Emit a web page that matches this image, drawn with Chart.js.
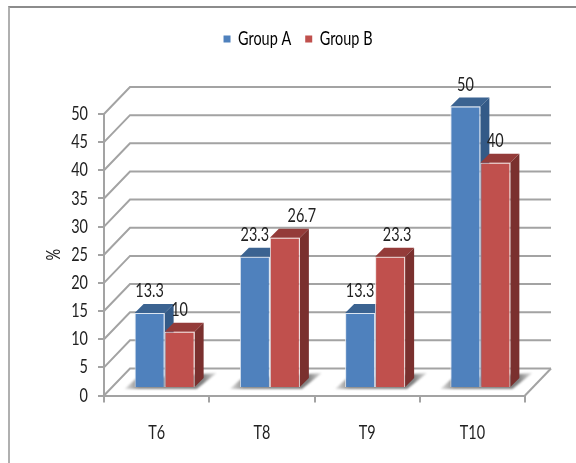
<!DOCTYPE html>
<html>
<head>
<meta charset="utf-8">
<style>
    html, body { margin: 0; padding: 0; background: #fff; overflow: hidden; }
    #frame { position: absolute; left: 8px; top: 6px; width: 568px; height: 457px; box-sizing: border-box;
             border-top: 2px solid #8c8c8c; border-left: 2px solid #b0b0b0; }
    #wrap { position: absolute; left: 22px; top: 0; width: 554px; height: 463px; }
</style>
<script src="https://cdn.jsdelivr.net/npm/chart.js@4"></script>
</head>
<body>
<div id="frame"></div>
<div id="wrap"><canvas id="chart"></canvas></div>
<script>
const categories = ['T6', 'T8', 'T9', 'T10'];
const groupA = [13.3, 23.3, 13.3, 50];
const groupB = [10, 26.7, 23.3, 40];
const yTicks = [0, 5, 10, 15, 20, 25, 30, 35, 40, 45, 50];

const FONT = 'Lato, "Open Sans", sans-serif';
const FONT_SIZE = 19;
const TEXT_COLOR = '#222';
const GRID_COLOR = '#a3a3a3';
const TEXT_STRETCH = 0.76;

// 3D look: the wall sits behind the axes, the bars stand in the middle of the floor
const WALL = { x: 26, y: -27 };
const BAR_SHIFT = { x: 8, y: -7.5 };
const BAR_DEPTH = 9;
const faceColors = [
    { top: '#3b6391', side: '#335a87' },
    { top: '#943b39', side: '#7a302e' }
];
// Group B labels slide right where they would hit the neighbouring label
const labelNudge = [[0, 0, 0, 0], [0, 17, 7, 0]];

function poly(ctx, pts, fill) {
    ctx.beginPath();
    pts.forEach((p, i) => i ? ctx.lineTo(p[0], p[1]) : ctx.moveTo(p[0], p[1]));
    ctx.closePath();
    ctx.fillStyle = fill;
    ctx.fill();
}

// all text on this canvas is drawn horizontally squeezed
function narrowText(ctx) {
    const fill = ctx.fillText.bind(ctx);
    const measure = ctx.measureText.bind(ctx);
    ctx.fillText = (str, x, y) => {
        ctx.save();
        ctx.translate(x, y);
        ctx.scale(TEXT_STRETCH, 1);
        fill(str, 0, 0);
        ctx.restore();
    };
    ctx.measureText = str => ({ width: measure(str).width * TEXT_STRETCH });
}

const wallPlugin = {
    id: 'wall',
    beforeInit(chart) {
        // legend box keeps its spacing but reserves all the room above the plot
        const legend = chart.legend;
        const fit = legend.fit;
        legend.fit = function () {
            fit.call(this);
            this.height = 100.5;
        };
    },
    beforeDatasetsDraw(chart) {
        const { ctx, chartArea: { left, right }, scales: { y } } = chart;
        ctx.save();
        ctx.strokeStyle = GRID_COLOR;
        ctx.lineWidth = 2;
        yTicks.forEach(v => {
            const py = y.getPixelForValue(v);
            ctx.beginPath();
            ctx.moveTo(left, py);
            ctx.lineTo(left + WALL.x, py + WALL.y);
            ctx.lineTo(right + WALL.x, py + WALL.y);
            ctx.stroke();
        });
        // right edge of the floor
        const zero = y.getPixelForValue(0);
        ctx.beginPath();
        ctx.moveTo(right, zero);
        ctx.lineTo(right + WALL.x, zero + WALL.y);
        ctx.stroke();
        ctx.restore();

        ctx.save();
        ctx.translate(BAR_SHIFT.x, BAR_SHIFT.y);
        // floor shadows, darkest right around the bars
        const a = chart.getDatasetMeta(0).data;
        const b = chart.getDatasetMeta(1).data;
        ctx.save();
        ctx.filter = 'blur(1px)';
        a.forEach((bar, i) => {
            const l = bar.x - bar.width / 2;
            const r = b[i].x + b[i].width / 2;
            const base = bar.base;
            const shade = ctx.createLinearGradient(l - 10, 0, r + 22, 0);
            shade.addColorStop(0, '#e4e4e4');
            shade.addColorStop(0.15, '#8c8c8c');
            shade.addColorStop(0.85, '#808080');
            shade.addColorStop(1, '#e4e4e4');
            poly(ctx, [[l - 10, base + 2], [l + 1, base - 8], [r + 22, base - 14], [r + 2, base + 2]], shade);
        });
        ctx.restore();
        // top and side faces go under the front faces
        chart.data.datasets.forEach((ds, d) => {
            chart.getDatasetMeta(d).data.forEach(bar => {
                const l = bar.x - bar.width / 2;
                const r = bar.x + bar.width / 2;
                poly(ctx, [[l, bar.y], [l + BAR_DEPTH, bar.y - BAR_DEPTH], [r + BAR_DEPTH, bar.y - BAR_DEPTH], [r, bar.y]], faceColors[d].top);
                poly(ctx, [[r, bar.y], [r + BAR_DEPTH, bar.y - BAR_DEPTH], [r + BAR_DEPTH, bar.base - BAR_DEPTH], [r, bar.base]], faceColors[d].side);
            });
        });
    },
    afterDatasetsDraw(chart) {
        const { ctx } = chart;
        ctx.restore();
        // value labels
        ctx.save();
        ctx.font = FONT_SIZE + 'px ' + FONT;
        ctx.fillStyle = TEXT_COLOR;
        ctx.textAlign = 'center';
        ctx.textBaseline = 'middle';
        chart.data.datasets.forEach((ds, d) => {
            chart.getDatasetMeta(d).data.forEach((bar, i) => {
                ctx.fillText(ds.data[i], bar.x + BAR_SHIFT.x + labelNudge[d][i], bar.y + BAR_SHIFT.y - 22);
            });
        });
        ctx.restore();
    }
};

Chart.defaults.font.family = FONT;
Chart.defaults.font.size = FONT_SIZE;
Chart.defaults.color = TEXT_COLOR;

const canvas = document.getElementById('chart');
narrowText(canvas.getContext('2d'));

new Chart(canvas, {
    type: 'bar',
    data: {
        labels: categories,
        datasets: [
            { label: 'Group A', data: groupA, backgroundColor: '#4f81bd', borderColor: '#dde6f1', borderWidth: 1 },
            { label: 'Group B', data: groupB, backgroundColor: '#c0504d', borderColor: '#f1dfde', borderWidth: 1 }
        ]
    },
    options: {
        responsive: true,
        maintainAspectRatio: false,
        animation: false,
        categoryPercentage: 0.57,
        barPercentage: 1,
        clip: false,
        layout: { padding: { top: 13.5, left: 0, right: 0, bottom: 0 } },
        plugins: {
            legend: {
                position: 'top',
                labels: {
                    boxWidth: 3,
                    boxHeight: 3,
                    padding: 16,
                    color: TEXT_COLOR,
                    // small box with a thick border of its own colour, keeps the text close to it
                    generateLabels(chart) {
                        return chart.data.datasets.map((ds, i) => ({
                            text: ds.label,
                            fillStyle: ds.backgroundColor,
                            strokeStyle: ds.backgroundColor,
                            lineWidth: 4,
                            datasetIndex: i
                        }));
                    }
                }
            },
            tooltip: { enabled: false }
        },
        scales: {
            x: {
                grid: { drawOnChartArea: false, tickLength: 7, color: GRID_COLOR, lineWidth: 2 },
                border: { color: GRID_COLOR, width: 2 },
                ticks: { padding: 19 },
                afterFit(scale) { scale.height = 67.5; }
            },
            y: {
                min: 0,
                max: 50,
                grid: { drawOnChartArea: false, tickLength: 6, color: GRID_COLOR, lineWidth: 2 },
                border: { color: GRID_COLOR, width: 2 },
                ticks: { stepSize: 5, padding: 10 },
                title: { display: true, text: '%', padding: { top: 20, bottom: 0 } },
                afterFit(scale) { scale.width = 82; }
            },
            // empty axis that only holds the room right of the plot
            spacer: {
                type: 'linear',
                position: 'right',
                grid: { display: false },
                border: { display: false },
                ticks: { display: false },
                afterFit(scale) { scale.width = 51; }
            }
        }
    },
    plugins: [wallPlugin]
});
</script>
</body>
</html>
